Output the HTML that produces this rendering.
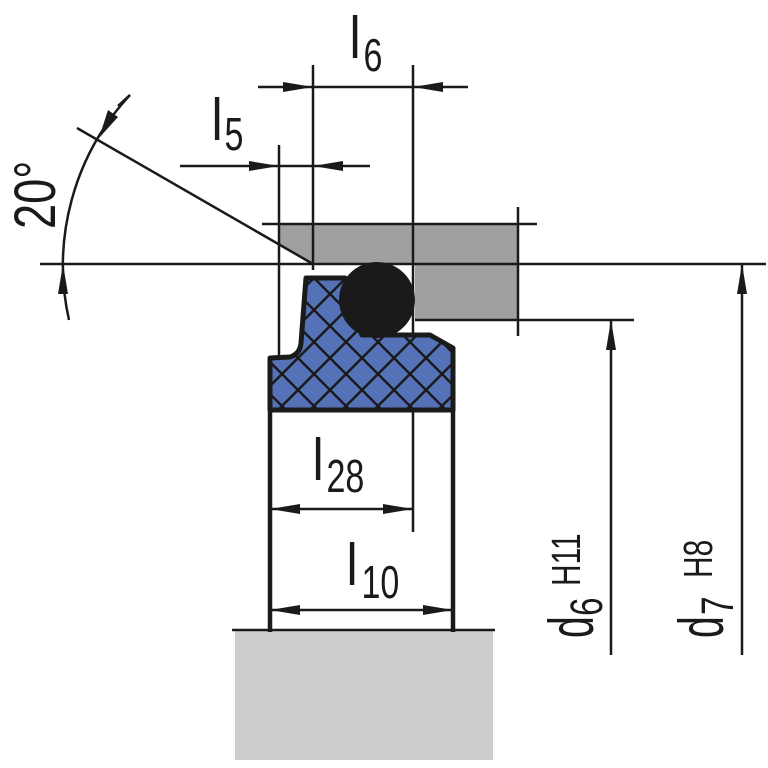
<!DOCTYPE html>
<html><head><meta charset="utf-8"><style>html,body{margin:0;padding:0;background:#fff}svg{display:block}</style></head>
<body>
<svg width="768" height="768" viewBox="0 0 768 768" xmlns="http://www.w3.org/2000/svg" font-family="Liberation Sans, sans-serif" fill="#1a1a1a">
<defs>
<pattern id="h" width="32" height="32" patternUnits="userSpaceOnUse" x="10" y="6">
<path d="M0,0 L32,32 M32,0 L0,32 M-16,16 L16,-16 M16,48 L48,16 M-16,16 L16,48 M16,-16 L48,16" stroke="#1a1a1a" stroke-width="2.5"/>
</pattern>
</defs>
<rect x="235" y="630" width="258" height="130" fill="#cccccc"/>
<polygon points="280,224 518,224 518,320 415,320 415,264 313,264 280,245" fill="#a0a0a0"/>
<g stroke="#1a1a1a" stroke-width="2.5" fill="none">
<line x1="40" y1="264" x2="766" y2="264"/>
<line x1="262" y1="224" x2="537" y2="224"/>
<line x1="415" y1="320" x2="634" y2="320"/>
<line x1="279" y1="145" x2="279" y2="360"/>
<line x1="313" y1="65" x2="313" y2="270"/>
<line x1="413" y1="65" x2="413" y2="532"/>
<line x1="518" y1="207" x2="518" y2="336"/>
<line x1="232" y1="630" x2="495" y2="630"/>
<line x1="313" y1="264" x2="77" y2="128"/>
<path d="M130,95 A250,250 0 0 0 69,320"/>
<line x1="258" y1="87" x2="468" y2="87"/>
<line x1="180" y1="166" x2="370" y2="166"/>
<line x1="270" y1="509" x2="413" y2="509"/>
<line x1="270" y1="610" x2="453" y2="610"/>
<line x1="611" y1="320" x2="611" y2="655"/>
<line x1="742" y1="264" x2="742" y2="655"/>
</g>
<g stroke="#1a1a1a" stroke-width="4.5">
<line x1="270" y1="405" x2="270" y2="632"/>
<line x1="453" y1="405" x2="453" y2="632"/>
</g>
<path d="M306,278 L345,278 L362,335 L430,335 L453,348 L453,410 L270,410 L270,358 L290,357 Q300,354 301,343 Z" fill="#5572b8"/>
<path d="M306,278 L345,278 L362,335 L430,335 L453,348 L453,410 L270,410 L270,358 L290,357 Q300,354 301,343 Z" fill="url(#h)" stroke="#1a1a1a" stroke-width="5" stroke-linejoin="round"/>
<circle cx="377" cy="300" r="38" fill="#1a1a1a"/>
<polygon points="313,87 283,82 283,92"/>
<polygon points="413,87 443,82 443,92"/>
<polygon points="279,166 249,161 249,171"/>
<polygon points="313,166 343,161 343,171"/>
<polygon points="270,509 300,504 300,514"/>
<polygon points="413,509 383,504 383,514"/>
<polygon points="270,610 300,605 300,615"/>
<polygon points="453,610 423,605 423,615"/>
<polygon points="611,320 606,350 616,350"/>
<polygon points="742,264 737,294 747,294"/>
<polygon points="63,264 58,294 68,294"/>
<polygon points="99,138 108,110 118,117"/>
<line x1="118" y1="106" x2="130" y2="95" stroke="#1a1a1a" stroke-width="2.5"/>
<text transform="translate(349.5,58) scale(0.85,1)" font-size="59">l</text>
<text transform="translate(363.5,71) scale(0.74,1)" font-size="46">6</text>
<text transform="translate(211.5,140) scale(0.85,1)" font-size="59">l</text>
<text transform="translate(224.5,150) scale(0.74,1)" font-size="46">5</text>
<text transform="translate(312.5,480) scale(0.85,1)" font-size="59">l</text>
<text transform="translate(326.5,492) scale(0.74,1)" font-size="46">28</text>
<text transform="translate(346.5,585) scale(0.85,1)" font-size="59">l</text>
<text transform="translate(361.5,598) scale(0.74,1)" font-size="46">10</text>
<text transform="translate(55,229) rotate(-90) scale(0.78,1)" font-size="58">20°</text>
<text transform="translate(593,638) rotate(-90) scale(0.62,1)" font-size="63">d</text>
<text transform="translate(602,616) rotate(-90) scale(0.74,1)" font-size="45">6</text>
<text transform="translate(580,586) rotate(-90) scale(0.73,1)" font-size="41">H11</text>
<text transform="translate(723,638) rotate(-90) scale(0.62,1)" font-size="63">d</text>
<text transform="translate(733,615) rotate(-90) scale(0.74,1)" font-size="45">7</text>
<text transform="translate(712,578) rotate(-90) scale(0.73,1)" font-size="41">H8</text>
</svg>
</body></html>
